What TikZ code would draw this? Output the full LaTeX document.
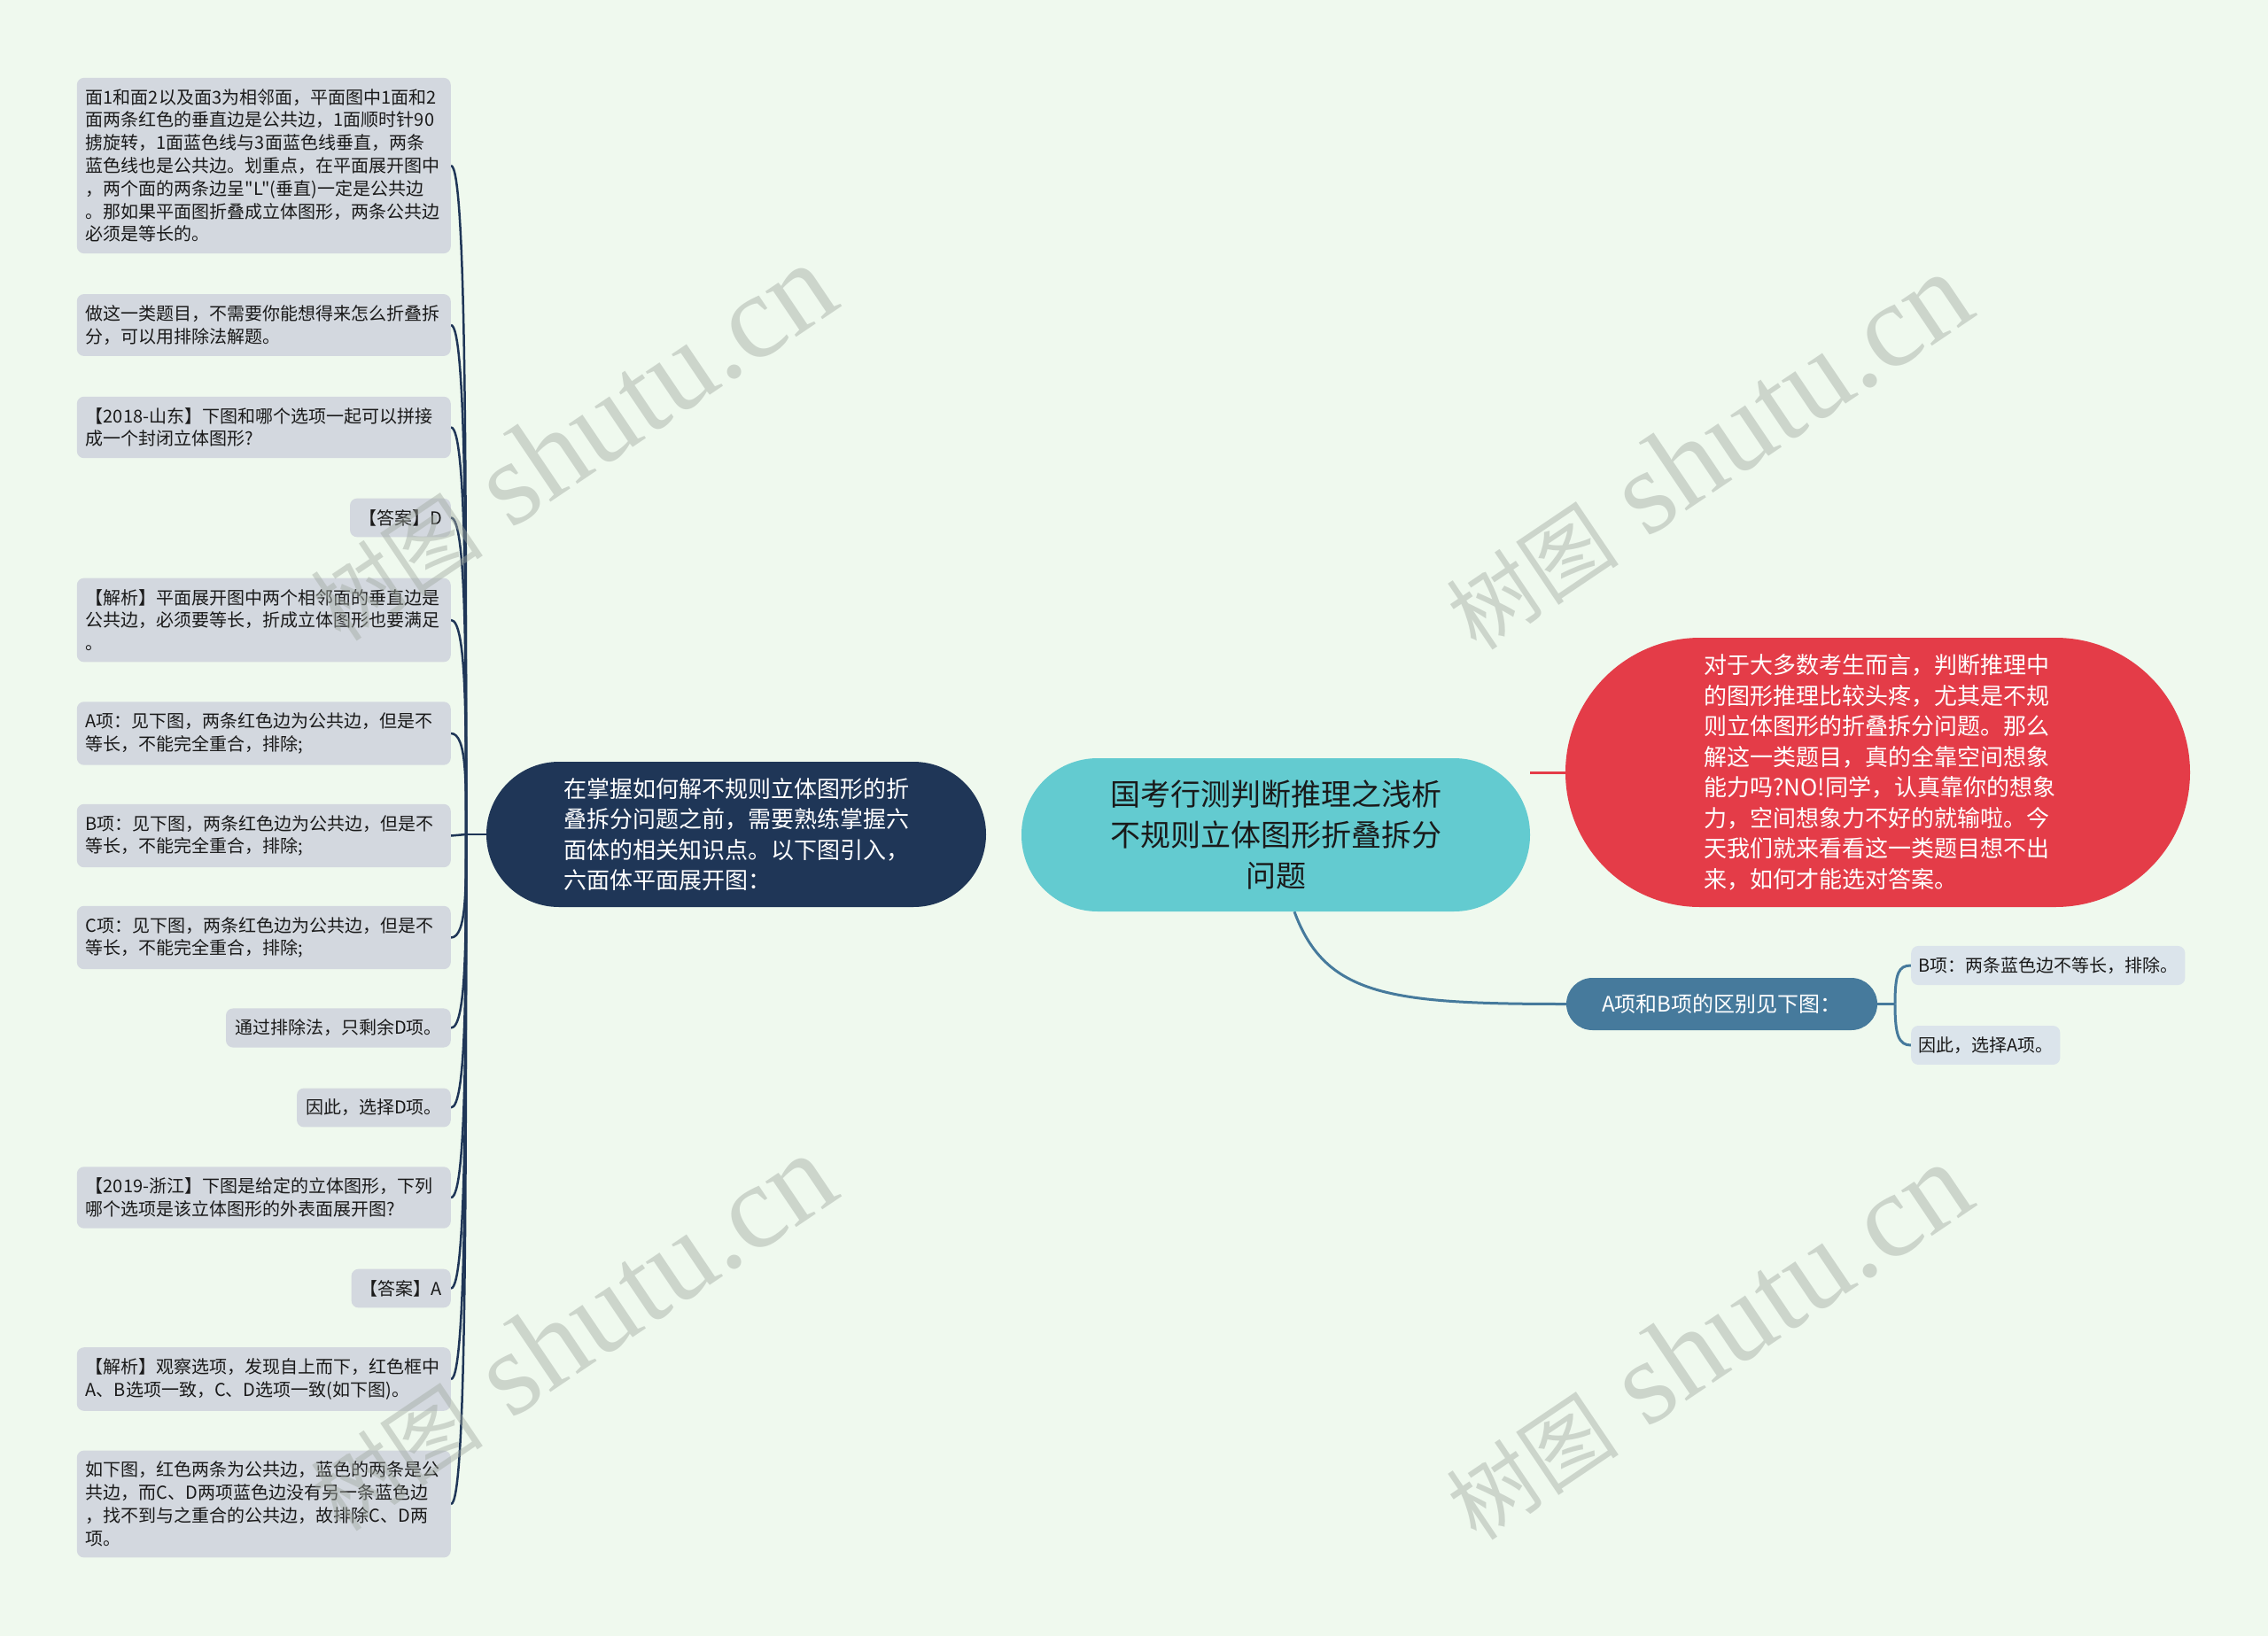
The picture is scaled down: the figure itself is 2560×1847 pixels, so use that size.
\documentclass[tikz,border=0pt]{standalone}
\usepackage{fontspec}
\setmainfont{Noto Sans CJK SC}[Ligatures=TeXOff]
\newfontfamily\wmlatin{Liberation Serif}
\usetikzlibrary{calc}
\pgfdeclarelayer{bg}\pgfdeclarelayer{fg}
\pgfsetlayers{bg,main,fg}
\definecolor{bgc}{HTML}{EFF9EE}
\definecolor{navy}{HTML}{1F3657}
\definecolor{teal}{HTML}{63CBD0}
\definecolor{redc}{HTML}{E43C48}
\definecolor{steel}{HTML}{467A9C}
\definecolor{leafc}{HTML}{D3D8DF}
\definecolor{rleafc}{HTML}{DBE4EB}
\definecolor{leaftext}{HTML}{1A1A1A}
\definecolor{wmc}{HTML}{A2AAA2}
\tikzset{
  leaf/.style={fill=leafc, rounded corners=8pt, inner xsep=10pt, inner ysep=12.5pt,
    font=\fontsize{20}{25.8}\selectfont, text=leaftext, align=left, anchor=east},
  wide/.style={text width=402pt},
  rleaf/.style={fill=rleafc, rounded corners=8pt, inner xsep=8pt, inner ysep=12.5pt,
    font=\fontsize{20}{25.8}\selectfont, text=leaftext, align=left, anchor=west},
  lc/.style={draw=navy, line width=2.5pt},
  sc/.style={draw=steel, line width=3pt},
  rc/.style={draw=redc, line width=3pt},
  wm/.style={text=wmc, opacity=0.45, font=\fontsize{135}{140}\wmlatin, rotate=34, inner sep=0pt}
}
\newcommand\wmtext{{\fontsize{98}{100}\selectfont\normalfont 树图} shutu.cn}
\begin{document}
\begin{tikzpicture}[x=1pt,y=-1pt]
\useasboundingbox (0,0) rectangle (2560,1847);

% main nodes
\node[fill=navy, text=white, rounded corners=82pt, minimum width=564pt, minimum height=164pt,
  inner sep=0pt, text width=390pt, align=left, font=\fontsize{26}{34.3}\selectfont]
  (d) at (831,942) {在掌握如何解不规则立体图形的折\\叠拆分问题之前，需要熟练掌握六\\面体的相关知识点。以下图引入，\\六面体平面展开图：};
\node[fill=teal, text=leaftext, rounded corners=86pt, minimum width=574pt, minimum height=173pt,
  inner sep=0pt, align=center, font=\fontsize{34}{45.7}\selectfont]
  (c) at (1440,942.5) {国考行测判断推理之浅析\\不规则立体图形折叠拆分\\问题};
\node[fill=redc, text=white, rounded corners=152pt, minimum width=705pt, minimum height=304pt,
  inner sep=0pt, text width=392pt, align=left, font=\fontsize{26}{34.5}\selectfont]
  (r) at (2119.5,872) {对于大多数考生而言，判断推理中\\的图形推理比较头疼，尤其是不规\\则立体图形的折叠拆分问题。那么\\解这一类题目，真的全靠空间想象\\能力吗?NO!同学，认真靠你的想象\\力，空间想象力不好的就输啦。今\\天我们就来看看这一类题目想不出\\来，如何才能选对答案。};
\node[fill=steel, text=white, rounded corners=29.5pt, minimum width=351pt, minimum height=59pt,
  inner sep=0pt, font=\fontsize{24}{30}\selectfont]
  (s) at (1943.5,1133.5) {A项和B项的区别见下图：};

% right leaves
\node[rleaf] (rr1) at (2157,1090) {B项：两条蓝色边不等长，排除。};
\node[rleaf] (rr2) at (2157,1180) {因此，选择A项。};

% left leaves
\node[leaf,wide] (l1) at (509,187) {面1和面2以及面3为相邻面，平面图中1面和2\\面两条红色的垂直边是公共边，1面顺时针90\\掳旋转，1面蓝色线与3面蓝色线垂直，两条\\蓝色线也是公共边。划重点，在平面展开图中\\，两个面的两条边呈"L"(垂直)一定是公共边\\。那如果平面图折叠成立体图形，两条公共边\\必须是等长的。};
\node[leaf,wide] (l2) at (509,367) {做这一类题目，不需要你能想得来怎么折叠拆\\分，可以用排除法解题。};
\node[leaf,wide] (l3) at (509,482.5) {【2018-山东】下图和哪个选项一起可以拼接\\成一个封闭立体图形?};
\node[leaf] (l4) at (509,584.5) {【答案】D};
\node[leaf,wide] (l5) at (509,700) {【解析】平面展开图中两个相邻面的垂直边是\\公共边，必须要等长，折成立体图形也要满足\\。};
\node[leaf,wide] (l6) at (509,828) {A项：见下图，两条红色边为公共边，但是不\\等长，不能完全重合，排除;};
\node[leaf,wide] (l7) at (509,943.5) {B项：见下图，两条红色边为公共边，但是不\\等长，不能完全重合，排除;};
\node[leaf,wide] (l8) at (509,1058.5) {C项：见下图，两条红色边为公共边，但是不\\等长，不能完全重合，排除;};
\node[leaf] (l9) at (509,1160.5) {通过排除法，只剩余D项。};
\node[leaf] (l10) at (509,1250.5) {因此，选择D项。};
\node[leaf,wide] (l11) at (509,1352) {【2019-浙江】下图是给定的立体图形，下列\\哪个选项是该立体图形的外表面展开图?};
\node[leaf] (l12) at (509,1454.5) {【答案】A};
\node[leaf,wide] (l13) at (509,1557) {【解析】观察选项，发现自上而下，红色框中\\A、B选项一致，C、D选项一致(如下图)。};
\node[leaf,wide] (l14) at (509,1698) {如下图，红色两条为公共边，蓝色的两条是公\\共边，而C、D两项蓝色边没有另一条蓝色边\\，找不到与之重合的公共边，故排除C、D两\\项。};

\coordinate (T) at (526,942);
\coordinate (U) at (2139,1133.5);

\begin{pgfonlayer}{bg}
  \fill[bgc] (0,0) rectangle (2560,1847);
  \draw[lc] (d.west) -- (T);
  \foreach \n/\k in {l1/-377,l2/-287,l3/-230,l4/-179,l5/-121,l6/-57,l8/58,l9/109,l10/154,l11/205,l12/256,l13/307,l14/378}
    \draw[lc] (T) .. controls +(0,\k) and +(18,0) .. (\n.east);
  \draw[lc] (T) -- (l7.east);
  \draw[rc] (r.west) -- (r.west -| c.east);
  \draw[sc] ($(c.south)+(21,0)$) .. controls +(35,95) and +(-200,0) .. (s.west);
  \draw[sc] (s.east) -- (U);
  \draw[sc] (U) .. controls +(0,-35) and +(-14,0) .. (rr1.west);
  \draw[sc] (U) .. controls +(0,35) and +(-14,0) .. (rr2.west);
\end{pgfonlayer}

\begin{pgfonlayer}{fg}
  \node[wm] (w1) at (645,500) {\wmtext};
  \node[wm] (w2) at (1927,510) {\wmtext};
  \node[wm] (w3) at (645,1505) {\wmtext};
  \node[wm] (w4) at (1927,1515) {\wmtext};
\end{pgfonlayer}
\end{tikzpicture}
\end{document}
